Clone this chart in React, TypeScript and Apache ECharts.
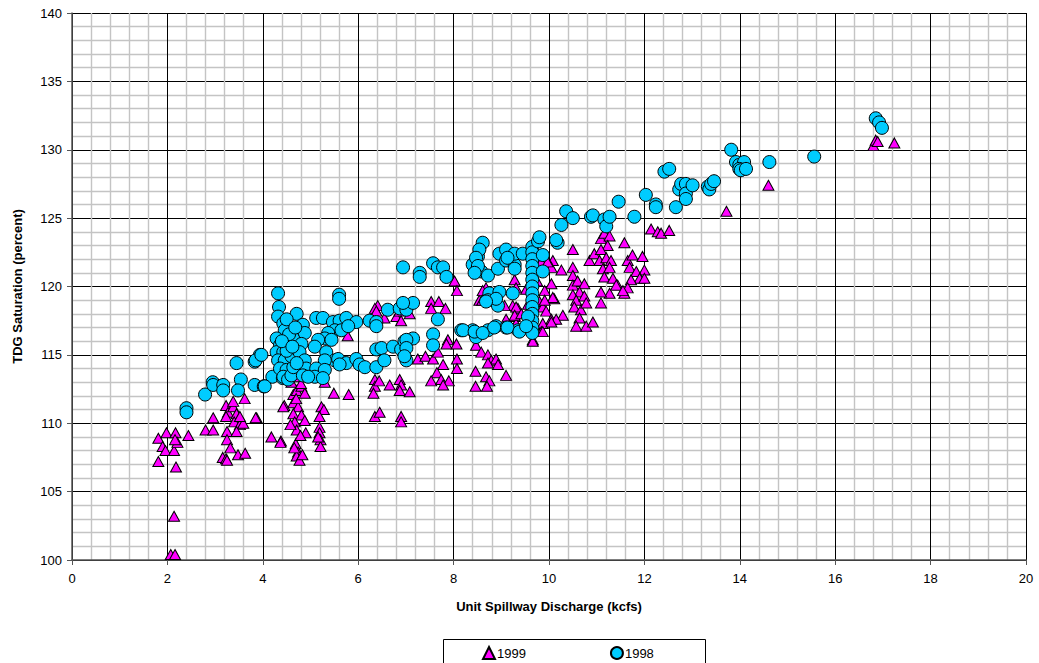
import React, { useEffect, useRef } from "react";
import * as echarts from "echarts";

// Axis settings
const xTicks = [0, 2, 4, 6, 8, 10, 12, 14, 16, 18, 20];
const yTicks = [100, 105, 110, 115, 120, 125, 130, 135, 140];

const xTitle = "Unit Spillway Discharge (kcfs)";
const yTitle = "TDG Saturation (percent)";

// 1999 observations: [unit spillway discharge (kcfs), TDG saturation (%)]
const obs1999: [number, number][] = [
  [1.81, 108.9], [1.98, 109.3], [2.17, 109.3], [1.9, 108.3], [1.96, 108.0], [2.14, 108.0],
  [2.21, 108.6], [2.16, 108.8], [1.81, 107.2], [2.18, 106.8], [2.44, 109.1], [2.14, 103.2],
  [2.07, 100.4], [2.16, 100.4],
  [2.8, 109.5], [2.96, 109.5], [2.96, 110.4], [3.23, 111.3], [3.27, 110.8], [3.38, 111.2],
  [3.45, 110.7], [3.4, 110.1], [3.52, 109.9], [3.59, 110.0], [3.25, 109.4], [3.45, 109.4],
  [3.25, 108.8], [3.32, 108.2], [3.16, 107.5], [3.23, 107.4], [3.25, 107.3], [3.48, 107.7],
  [3.63, 107.8], [3.62, 111.8], [3.38, 111.6], [3.87, 110.4], [3.23, 110.5], [3.52, 110.5],
  [4.18, 109.0], [4.38, 108.7], [4.45, 111.3],
  [4.64, 112.1], [4.71, 112.4], [4.81, 112.7], [4.88, 112.2], [4.64, 111.5], [4.74, 111.2],
  [4.43, 111.2], [4.64, 110.7], [4.81, 110.6], [4.67, 110.1], [4.88, 110.2], [4.71, 109.5],
  [3.85, 110.4], [4.37, 108.6], [4.69, 108.5], [4.74, 107.9], [4.71, 107.6], [4.77, 107.3],
  [4.9, 109.3], [4.6, 113.0], [4.75, 113.4], [4.85, 113.8], [4.68, 114.2], [4.8, 112.9],
  [4.7, 111.8], [4.58, 109.9], [4.79, 109.1], [4.66, 108.2], [4.83, 107.7],
  [5.23, 111.2], [5.28, 111.0], [5.19, 110.5], [5.19, 109.7], [5.19, 109.3], [5.21, 108.8],
  [5.21, 108.3], [5.16, 109.0], [5.49, 112.2], [5.8, 112.1], [5.78, 116.4], [5.3, 113.0],
  [6.35, 113.2], [6.35, 112.7], [6.32, 112.2], [6.44, 113.1], [6.41, 118.6], [6.35, 118.4],
  [6.38, 118.2], [6.55, 117.7], [6.66, 112.8], [6.87, 113.2], [6.9, 112.8], [6.87, 112.4],
  [7.08, 112.3], [6.35, 110.5], [6.45, 110.8], [6.9, 110.5], [6.9, 110.1], [6.8, 117.8],
  [6.87, 118.2], [6.9, 117.5], [7.08, 118.0],
  [8.02, 120.4], [8.07, 119.7], [7.53, 118.9], [7.69, 118.9], [7.83, 118.4], [7.53, 118.4],
  [7.88, 116.1], [8.06, 115.8], [7.85, 115.8], [7.25, 114.7], [7.41, 114.9], [7.57, 114.7],
  [7.67, 115.2], [7.78, 114.3], [8.07, 114.7], [8.07, 114.0], [7.65, 113.7], [7.53, 113.1],
  [7.74, 113.2], [7.9, 113.1], [7.78, 112.8],
  [8.46, 113.8], [8.46, 112.7], [8.68, 113.4], [8.75, 113.1], [8.7, 112.7], [9.1, 113.5],
  [8.47, 115.7], [8.58, 115.2], [8.72, 115.0], [8.79, 114.6], [8.89, 114.7], [8.93, 114.3],
  [8.72, 114.4],
  [8.54, 119.0], [8.68, 119.9], [9.28, 120.5], [9.31, 119.9], [9.24, 118.6], [9.35, 118.4],
  [9.28, 117.8], [9.31, 117.3], [9.66, 116.1], [9.8, 118.9], [9.87, 118.5], [9.94, 118.2],
  [10.05, 117.6], [10.05, 120.2], [10.08, 121.9], [9.97, 121.6], [9.8, 121.6], [10.11, 119.1],
  [9.87, 117.3], [9.1, 117.6], [9.07, 118.6], [8.61, 119.7], [8.6, 119.0], [9.31, 118.5],
  [9.28, 117.9], [9.42, 118.0], [9.52, 119.8], [9.56, 118.7], [9.7, 117.2], [9.75, 120.4],
  [9.84, 121.8], [9.84, 116.7], [9.66, 116.0], [9.91, 119.7], [10.01, 121.6],
  [10.5, 122.7], [10.85, 121.9], [10.95, 122.4], [11.09, 123.5], [11.16, 123.9], [11.27, 123.7],
  [11.23, 123.0], [11.09, 122.7], [11.06, 121.9], [11.2, 122.1], [11.3, 121.9], [11.13, 121.3],
  [11.27, 121.4], [11.16, 120.7], [11.34, 120.6], [11.44, 120.1], [11.27, 119.5], [11.09, 119.6],
  [11.09, 118.8], [11.58, 123.2], [11.58, 119.5], [11.65, 121.9], [11.75, 122.3], [11.96, 122.2],
  [12.0, 121.2], [11.69, 121.4], [11.83, 121.1], [11.9, 120.6], [11.72, 120.5], [11.65, 119.9],
  [12.0, 120.6], [10.5, 121.4], [10.5, 120.8], [10.5, 120.1], [10.6, 120.4], [10.74, 120.2],
  [10.64, 119.6], [10.5, 119.4], [10.57, 119.0], [10.74, 119.3], [10.53, 118.5], [10.67, 118.3],
  [10.78, 118.8], [10.64, 117.7], [10.57, 117.1], [10.78, 117.1], [10.92, 117.4], [10.29, 117.9],
  [10.15, 117.6], [10.05, 117.4], [10.08, 119.2], [9.91, 119.0], [9.87, 116.7], [10.05, 121.4],
  [10.26, 121.2], [9.97, 121.8], [11.41, 120.1], [11.55, 119.7],
  [12.14, 124.2], [12.28, 124.0], [12.35, 123.9], [12.52, 124.1],
  [13.72, 125.5], [14.6, 127.4], [16.8, 130.3], [16.85, 130.7], [16.89, 130.6], [17.24, 130.5],
];

// 1998 observations: [unit spillway discharge (kcfs), TDG saturation (%)]
const obs1998: [number, number][] = [
  [2.4, 111.1], [2.4, 110.8], [2.79, 112.1], [2.95, 113.0], [2.96, 112.8], [3.17, 112.8],
  [3.17, 112.4], [3.45, 114.4], [3.54, 113.2], [3.48, 112.4], [3.83, 114.5], [3.83, 112.8],
  [3.94, 115.0], [4.02, 112.7], [4.2, 113.4], [4.42, 113.3], [3.85, 114.6], [3.97, 115.0],
  [4.04, 112.7],
  [4.32, 119.5], [4.34, 118.5], [4.32, 117.8], [4.43, 117.3], [4.71, 118.0], [4.46, 116.8],
  [4.29, 116.2], [4.36, 115.7], [4.29, 115.2], [4.43, 115.2], [4.32, 114.6], [4.46, 114.6],
  [4.36, 114.0], [4.5, 113.9], [4.43, 113.4], [4.53, 113.2], [4.6, 113.5], [4.64, 114.1],
  [4.6, 114.9], [4.57, 115.6], [4.64, 116.2], [4.84, 117.2], [4.88, 116.6], [4.81, 115.8],
  [4.77, 115.2], [4.88, 114.6], [4.91, 114.0], [4.84, 113.5], [4.71, 114.4], [4.5, 117.6],
  [4.55, 116.5], [4.68, 117.0], [4.5, 115.3], [4.4, 116.0], [4.62, 115.6],
  [5.6, 119.4], [5.6, 119.1], [5.12, 117.7], [5.26, 117.7], [5.47, 117.4], [5.61, 117.5],
  [5.75, 117.7], [5.96, 117.4], [5.51, 116.8], [5.37, 116.6], [5.65, 116.8], [5.79, 117.1],
  [5.3, 116.2], [5.16, 116.1], [5.44, 116.1], [5.09, 115.6], [5.33, 115.2], [5.51, 114.6],
  [5.3, 114.6], [5.12, 114.0], [5.3, 113.9], [5.09, 113.4], [5.26, 113.3], [4.95, 113.4],
  [5.58, 114.7], [5.75, 114.4], [5.61, 114.3], [5.96, 114.7], [6.03, 114.3], [6.14, 114.1],
  [6.38, 114.1], [6.38, 115.4], [6.49, 115.5], [6.55, 114.6], [6.73, 115.6], [6.9, 115.4],
  [7.01, 114.6], [6.97, 116.0], [7.15, 116.2], [6.24, 117.5], [6.38, 117.4], [6.38, 117.1],
  [6.62, 118.3], [6.87, 118.4], [7.01, 118.3], [7.15, 118.8], [6.94, 118.8],
  [6.94, 121.4], [7.29, 121.0], [7.29, 120.7], [7.57, 121.7], [7.67, 121.4], [7.78, 121.4],
  [7.85, 120.7], [7.67, 117.6], [7.57, 116.5], [7.57, 115.7], [7.01, 116.1], [7.01, 115.5],
  [6.97, 114.9],
  [8.16, 116.8], [8.4, 116.8], [8.47, 116.3], [8.72, 116.8], [8.89, 117.1], [9.1, 117.0],
  [9.35, 116.8], [8.2, 116.8], [8.44, 116.7], [8.61, 116.6], [8.85, 117.0], [9.13, 117.0],
  [9.38, 116.7],
  [8.61, 123.2], [8.51, 122.2], [8.4, 121.6], [8.58, 121.1], [8.72, 120.8], [8.93, 121.3],
  [8.96, 122.4], [9.1, 122.7], [9.1, 121.9], [9.28, 121.6], [9.28, 122.4], [9.45, 122.4],
  [8.54, 122.7], [8.47, 122.1], [8.51, 121.5], [8.44, 121.0], [9.13, 122.1], [9.28, 121.3],
  [8.75, 119.5], [8.96, 119.6], [9.24, 119.5], [8.72, 119.0], [8.93, 118.6], [8.89, 119.1],
  [8.68, 118.9],
  [9.65, 122.9], [9.65, 122.5], [9.65, 122.0], [9.65, 121.5], [9.65, 121.0], [9.65, 120.5],
  [9.65, 120.0], [9.65, 119.5], [9.65, 119.0], [9.65, 118.5], [9.65, 118.0], [9.65, 117.5],
  [9.65, 117.0], [9.65, 116.6], [9.87, 122.3], [9.87, 121.1], [9.77, 123.3], [10.18, 123.2],
  [9.56, 117.8], [9.52, 117.1], [9.8, 123.6],
  [10.15, 123.4], [10.26, 124.5], [10.36, 125.5], [10.5, 125.0], [10.88, 125.1], [10.92, 125.2],
  [11.16, 124.9], [11.2, 124.4], [11.27, 125.1], [11.46, 126.2], [11.79, 125.1], [12.03, 126.7],
  [12.24, 126.0], [12.24, 125.8], [12.42, 128.4], [12.52, 128.6], [12.66, 125.8], [12.73, 127.1],
  [12.77, 127.5], [12.87, 127.5], [12.87, 126.8], [12.87, 126.4], [13.01, 127.4],
  [13.33, 127.3], [13.36, 127.1], [13.4, 127.5], [13.46, 127.7],
  [13.82, 130.0], [13.92, 129.1], [13.99, 128.9], [14.09, 129.1], [13.99, 128.6], [14.02, 128.5],
  [14.13, 128.6], [14.62, 129.1], [15.56, 129.5],
  [16.85, 132.3], [16.92, 132.0], [16.98, 131.6],
];

const seriesNames = ["1999", "1998"];
const seriesColors = ["#ff00ff", "#00ccff"];

export default function App() {
  const ref = useRef<HTMLDivElement>(null);

  useEffect(() => {
    if (!ref.current) return;
    const chart = echarts.init(ref.current, undefined, { renderer: "svg" });
    const font = "Arial, 'Liberation Sans', sans-serif";

    chart.setOption({
      animation: false,
      backgroundColor: "#ffffff",
      grid: { left: 72, right: 13, top: 13, bottom: 103, containLabel: false },
      xAxis: {
        type: "value",
        min: xTicks[0],
        max: xTicks[xTicks.length - 1],
        interval: xTicks[1] - xTicks[0],
        name: xTitle,
        nameLocation: "middle",
        nameGap: 40,
        nameTextStyle: { fontFamily: font, fontSize: 13, fontWeight: "bold", color: "#000" },
        axisLine: { show: true, onZero: false, lineStyle: { color: "#555", width: 1.5 } },
        axisTick: { show: true, inside: false, length: 5, lineStyle: { color: "#555" } },
        axisLabel: { fontFamily: font, fontSize: 13, color: "#000", margin: 12 },
        splitLine: { show: true, lineStyle: { color: "#000", width: 1 } },
        minorTick: { show: false, splitNumber: 5 },
        minorSplitLine: { show: true, lineStyle: { color: "#c4c4c4", width: 1.4 } },
      },
      yAxis: {
        type: "value",
        min: yTicks[0],
        max: yTicks[yTicks.length - 1],
        interval: yTicks[1] - yTicks[0],
        name: yTitle,
        nameLocation: "middle",
        nameGap: 48,
        nameTextStyle: { fontFamily: font, fontSize: 13, fontWeight: "bold", color: "#000" },
        axisLine: { show: true, onZero: false, lineStyle: { color: "#555", width: 1.5 } },
        axisTick: { show: true, inside: false, length: 5, lineStyle: { color: "#555" } },
        axisLabel: { fontFamily: font, fontSize: 13, color: "#000", margin: 10 },
        splitLine: { show: true, lineStyle: { color: "#000", width: 1 } },
        minorTick: { show: false, splitNumber: 5 },
        minorSplitLine: { show: true, lineStyle: { color: "#c4c4c4", width: 1.4 } },
      },
      legend: {
        data: seriesNames,
        left: 482,
        top: 646,
        itemWidth: 12,
        itemHeight: 12,
        itemGap: 84,
        padding: 0,
        textStyle: { fontFamily: font, fontSize: 13, color: "#000", padding: [0, 0, 0, -3] },
      },
      graphic: [
        {
          type: "rect",
          left: 441,
          top: 637,
          shape: { width: 262, height: 40 },
          style: { fill: "none", stroke: "#000", lineWidth: 1 },
          silent: true,
        },
      ],
      series: [
        {
          name: seriesNames[0],
          type: "scatter",
          symbol: "triangle",
          symbolSize: [11, 10],
          data: obs1999,
          itemStyle: { color: seriesColors[0], borderColor: "#000", borderWidth: 1, opacity: 1 },
        },
        {
          name: seriesNames[1],
          type: "scatter",
          symbol: "circle",
          symbolSize: 13,
          data: obs1998,
          itemStyle: { color: seriesColors[1], borderColor: "#000", borderWidth: 1, opacity: 1 },
        },
      ],
    });

    return () => chart.dispose();
  }, []);

  return (
    <div
      ref={ref}
      style={{ position: "fixed", left: 0, top: 0, width: 1039, height: 663, background: "#fff" }}
    />
  );
}
